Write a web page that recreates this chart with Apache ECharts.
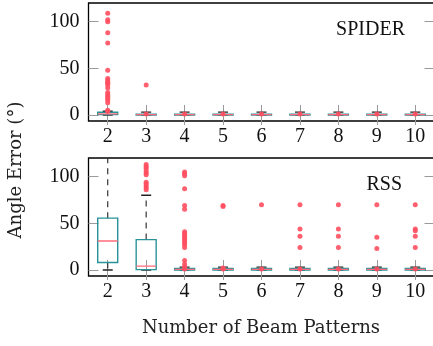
<!DOCTYPE html>
<html>
<head>
<meta charset="utf-8">
<script src="https://cdn.jsdelivr.net/npm/echarts@6/dist/echarts.min.js"></script>
<style>html,body{margin:0;padding:0;background:#fff}#c{width:433px;height:346px}</style>
</head>
<body>
<div id="c"></div>
<script>
// ---- data ----
const categories = ['2','3','4','5','6','7','8','9','10'];
const yTicks = [0, 50, 100];
// [min, q1, median, q3, max]
const spiderBoxes = [
  [0, 0.3, 1.2, 2.8, 4],
  [0, 0, 0.3, 0.8, 3],
  [0, 0, 0.3, 0.8, 3],
  [0, 0, 0.3, 0.8, 3],
  [0, 0, 0.3, 0.8, 3],
  [0, 0, 0.3, 0.8, 3],
  [0, 0, 0.3, 0.8, 3],
  [0, 0, 0.3, 0.8, 3],
  [0, 0, 0.3, 0.8, 3]
];
const spiderOutliers = [
  [109, 102, 100, 88, 77, 48, 39, 37, 35, 34, 32, 29, 24, 22, 20, 18, 16, 13, 5, 4],
  [32, 1],
  [1],
  [1],
  [1],
  [1],
  [1],
  [1],
  [1]
];
const rssBoxes = [
  [0, 8, 31, 55.5, 160],
  [0, 0.3, 4, 32.5, 80],
  [0, 0, 0.5, 1.5, 3],
  [0, 0, 0.5, 1.5, 3],
  [0, 0, 0.5, 1.5, 3],
  [0, 0, 0.5, 1.5, 3],
  [0, 0, 0.5, 1.5, 3],
  [0, 0, 0.5, 1.5, 3],
  [0, 0, 0.5, 1.5, 3]
];
const rssOutliers = [
  [],
  [113, 111, 109, 106, 104, 102, 94, 92, 90, 88, 86],
  [105, 103, 101, 87, 69, 65, 41, 39, 37, 35, 33, 31, 29, 27, 24, 10, 6, 3, 1],
  [69, 68, 2, 1],
  [70, 1],
  [70, 44, 36, 24, 1],
  [70, 44, 36, 24, 1],
  [70, 35, 23, 1],
  [70, 44, 42, 36, 24, 1]
];
const yMin = -6.5, yMax = 120;

// ---- build ----
const boxColor = '#2a9399', medColor = '#ff6b7b', dotColor = '#ff4f60';
const tickFont = 'Liberation Serif';
function boxData(b) { return b.map((r, i) => [i].concat(r)); }
function outData(o) { const d = []; o.forEach((vals, i) => vals.forEach(v => d.push([i, v]))); return d; }

function renderBox(params, api) {
  const idx = api.value(0);
  const mn = api.value(1), q1 = api.value(2), md = api.value(3), q3 = api.value(4), mx = api.value(5);
  const w = api.size([1, 0])[0] * 0.52;
  const cx = api.coord([idx, 0])[0];
  const y = v => api.coord([idx, v])[1];
  const cs = params.coordSys;
  const dash = {stroke: '#333', lineWidth: 1.2, lineDash: [6, 5]};
  const cap = {stroke: '#222', lineWidth: 1.4};
  return {
    type: 'group',
    clipPath: {type: 'rect', shape: {x: cs.x, y: cs.y, width: cs.width, height: cs.height}},
    children: [
      {type: 'line', shape: {x1: cx, y1: y(q3), x2: cx, y2: y(mx)}, style: dash},
      {type: 'line', shape: {x1: cx, y1: y(q1), x2: cx, y2: y(mn)}, style: dash},
      {type: 'line', shape: {x1: cx - w / 4, y1: y(mx), x2: cx + w / 4, y2: y(mx)}, style: cap},
      {type: 'line', shape: {x1: cx - w / 4, y1: y(mn), x2: cx + w / 4, y2: y(mn)}, style: cap},
      {type: 'rect', shape: {x: cx - w / 2, y: y(q3), width: w, height: y(q1) - y(q3)},
        style: {fill: 'none', stroke: boxColor, lineWidth: 1.4}},
      {type: 'line', shape: {x1: cx - w / 2, y1: y(md), x2: cx + w / 2, y2: y(md)},
        style: {stroke: medColor, lineWidth: 1.3}}
    ]
  };
}

function xAx(gi, pos) {
  return {
    type: 'category', data: categories, gridIndex: gi, position: pos,
    boundaryGap: true,
    axisLine: {show: false},
    axisTick: {show: true, inside: true, length: 10, alignWithLabel: true, lineStyle: {color: '#9a9a9a', width: 1}},
    axisLabel: {show: pos === 'bottom', margin: 6, color: '#111', fontFamily: tickFont, fontSize: 20},
    splitLine: {show: false}
  };
}
function yAx(gi, pos) {
  return {
    type: 'value', gridIndex: gi, position: pos, min: yMin, max: yMax,
    axisLine: {show: false},
    axisTick: {show: true, inside: true, length: 10, customValues: yTicks, lineStyle: {color: '#9a9a9a', width: 1}},
    axisLabel: {show: pos === 'left', margin: 9, color: '#111', fontFamily: tickFont, fontSize: 20, customValues: yTicks},
    splitLine: {show: false}
  };
}

const gridBase = {left: 88.5, width: 346, height: 118, show: true, outerBoundsMode: 'none', containLabel: false,
  borderColor: '#000', borderWidth: 1.3, backgroundColor: 'transparent'};

const option = {
  animation: false,
  backgroundColor: '#fff',
  grid: [Object.assign({top: 3}, gridBase), Object.assign({top: 158}, gridBase)],
  xAxis: [xAx(0, 'bottom'), xAx(0, 'top'), xAx(1, 'bottom'), xAx(1, 'top')],
  yAxis: [yAx(0, 'left'), yAx(0, 'right'), yAx(1, 'left'), yAx(1, 'right')],
  series: [
    {type: 'custom', xAxisIndex: 0, yAxisIndex: 0, renderItem: renderBox, data: boxData(spiderBoxes), encode: {x: 0, y: 1}, z: 2},
    {type: 'custom', xAxisIndex: 2, yAxisIndex: 2, renderItem: renderBox, data: boxData(rssBoxes), encode: {x: 0, y: 1}, z: 2},
    {type: 'scatter', xAxisIndex: 0, yAxisIndex: 0, data: outData(spiderOutliers), symbolSize: 5,
      itemStyle: {color: dotColor, opacity: 0.9}, z: 3},
    {type: 'scatter', xAxisIndex: 2, yAxisIndex: 2, data: outData(rssOutliers), symbolSize: 5,
      itemStyle: {color: dotColor, opacity: 0.9}, z: 3}
  ],
  graphic: [
    {type: 'text', right: 433 - 405, top: 20, style: {text: 'SPIDER', fontFamily: tickFont, fontSize: 20, fill: '#111'}},
    {type: 'text', right: 433 - 402, top: 175, style: {text: 'RSS', fontFamily: tickFont, fontSize: 20, fill: '#111'}},
    {type: 'text', x: 261, y: 328, style: {text: 'Number of Beam Patterns', fontFamily: 'DejaVu Serif', fontSize: 18, fill: '#222', align: 'center', verticalAlign: 'middle'}},
    {type: 'text', x: 16, y: 170, rotation: Math.PI / 2, style: {text: 'Angle Error (°)', fontFamily: 'DejaVu Serif', fontSize: 18, fill: '#222', align: 'center', verticalAlign: 'middle'}}
  ]
};
echarts.init(document.getElementById('c'), null, {renderer: 'canvas'}).setOption(option);
</script>
</body>
</html>
